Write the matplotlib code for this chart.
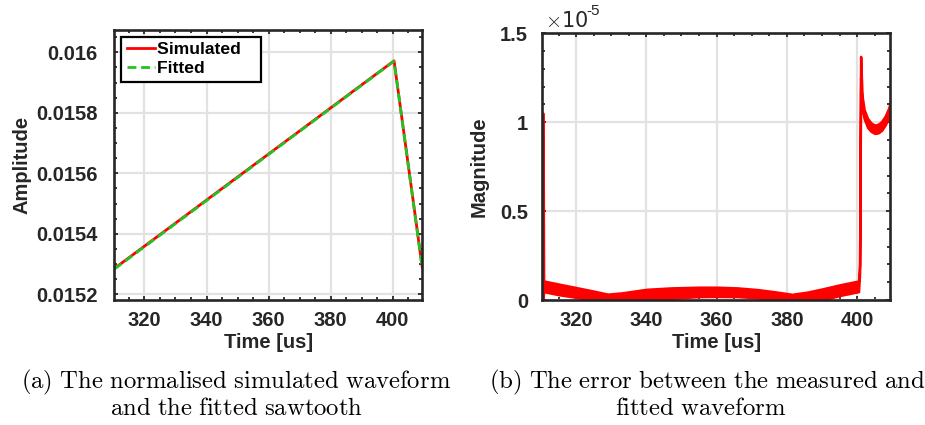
import matplotlib
matplotlib.use("Agg")
import matplotlib.pyplot as plt
from matplotlib.ticker import MultipleLocator, FormatStrFormatter

plt.rcParams['font.family'] = ['Liberation Sans', 'DejaVu Sans']
plt.rcParams['mathtext.fontset'] = 'cm'

# ---- (a) simulated sawtooth and its fitted model ----
time_us = [310.3, 400.4, 409.5]
simulated = [0.015285, 0.015972, 0.015288]
fitted = [0.015283, 0.015971, 0.015285]

# ---- (b) |measured - fitted|, envelope of the fast ripple (units of 1e-5) ----
err_t = [310.4, 310.6, 310.75, 315, 320, 325, 329, 333, 340, 347, 355, 360,
         366, 372, 377, 381.5, 386, 390, 395, 400.4, 400.7, 401.0, 401.4,
         402, 403, 404, 405, 406, 407, 408, 409, 409.4, 409.5]
err_hi = [1.05, 1.05, 0.107, 0.09, 0.07, 0.05, 0.033, 0.04, 0.06, 0.068, 0.072,
          0.072, 0.068, 0.058, 0.045, 0.032, 0.045, 0.062, 0.085, 0.107, 0.2,
          1.37, 1.15, 1.07, 1.02, 0.995, 0.984, 0.988, 1.005, 1.035, 1.08,
          1.11, 0.96]
err_lo = [0.0, 0.0, 0.047, 0.03, 0.015, 0.0, 0.0, 0.0, 0.0, 0.01, 0.019, 0.02,
          0.019, 0.012, 0.0, 0.0, 0.0, 0.0, 0.025, 0.047, 0.15, 1.25, 1.08,
          1.02, 0.97, 0.948, 0.937, 0.94, 0.955, 0.985, 1.025, 1.06, 0.96]

x_lim = (310.3, 409.5)
amp_ticks = [0.0152, 0.0154, 0.0156, 0.0158, 0.016]
mag_ticks = [0, 0.5, 1, 1.5]
time_ticks = [320, 340, 360, 380, 400]

spine_col = '#262626'
grid_col = '#e2e2e2'
red = '#ff0000'
green = '#22c422'
fs = 14.5

fig = plt.figure(figsize=(9.25, 4.25), dpi=100)
ax1 = fig.add_axes([114.3 / 925, 125 / 425, 308 / 925, 270 / 425])
ax2 = fig.add_axes([542 / 925, 125 / 425, 348.5 / 925, 266.7 / 425])


def style_axes(ax, ypad):
    for s in ax.spines.values():
        s.set_color(spine_col)
        s.set_linewidth(1.9)
    ax.tick_params(which='both', direction='in', top=True, right=True,
                   color=spine_col, width=1.3)
    ax.tick_params(which='major', length=3.2, labelsize=fs)
    ax.tick_params(which='minor', length=2.2)
    ax.tick_params(axis='x', pad=8)
    ax.tick_params(axis='y', pad=ypad)
    for lab in ax.get_xticklabels() + ax.get_yticklabels():
        lab.set_fontweight('bold')
        lab.set_color('#262626')
    ax.grid(True, which='major', color=grid_col, linewidth=1.6)
    ax.set_axisbelow(True)
    ax.set_xlim(*x_lim)
    ax.set_xticks(time_ticks)
    ax.xaxis.set_minor_locator(MultipleLocator(5))
    ax.set_xlabel('Time [us]', fontsize=fs, fontweight='bold',
                  color='#262626', labelpad=2)


# (a)
ax1.plot(time_us, simulated, color=red, linewidth=2.0, label='Simulated')
ax1.plot(time_us, fitted, color=green, linewidth=2.0, dashes=(3.2, 1.7),
         label='Fitted')
ax1.set_ylim(0.015181, 0.016074)
ax1.set_yticks(amp_ticks)
ax1.yaxis.set_minor_locator(MultipleLocator(0.00005))
ax1.yaxis.set_major_formatter(FormatStrFormatter('%g'))
style_axes(ax1, 12)
ax1.set_ylabel('Amplitude', fontsize=fs, fontweight='bold',
               color='#262626', labelpad=3)
leg = ax1.legend(loc='upper left', fontsize=12.6, frameon=True, fancybox=False,
                 borderaxespad=0.4, handlelength=1.6, handletextpad=0.15,
                 labelspacing=0.2, borderpad=0.3, framealpha=1)
leg.get_frame().set_edgecolor('black')
leg.get_frame().set_linewidth(1.6)
for t in leg.get_texts():
    t.set_fontweight('bold')
    t.set_text(t.get_text() + '   ')

# (b)
ax2.fill_between(err_t, err_lo, err_hi, color=red, linewidth=1.8,
                 edgecolor=red)
ax2.set_ylim(0, 1.5)
ax2.set_yticks(mag_ticks)
ax2.yaxis.set_minor_locator(MultipleLocator(0.1))
ax2.yaxis.set_major_formatter(FormatStrFormatter('%g'))
style_axes(ax2, 10)
ax2.set_ylabel('Magnitude', fontsize=fs, fontweight='bold',
               color='#262626', labelpad=8)
fig.text(545 / 925, 1 - 21 / 425, r'$\times$10', fontsize=15, color='#262626',
         va='center', ha='left', family='DejaVu Sans')
fig.text(586 / 925, 1 - 11 / 425, '-5', fontsize=11, color='#262626',
         va='center', ha='left')

# captions
cap_kw = dict(fontsize=17.8, ha='center', va='center', color='black')
fig.text(236 / 925, 1 - 382 / 425,
         r'$\mathrm{(a)\ The\ normalised\ simulated\ waveform}$', **cap_kw)
fig.text(237 / 925, 1 - 408 / 425,
         r'$\mathrm{and\ the\ fitted\ sawtooth}$', **cap_kw)
fig.text(707 / 925, 1 - 382 / 425,
         r'$\mathrm{(b)\ The\ error\ between\ the\ measured\ and}$', **cap_kw)
fig.text(701 / 925, 1 - 408 / 425,
         r'$\mathrm{fitted\ waveform}$', **cap_kw)

fig.savefig('out.png', dpi=100, facecolor='white')
